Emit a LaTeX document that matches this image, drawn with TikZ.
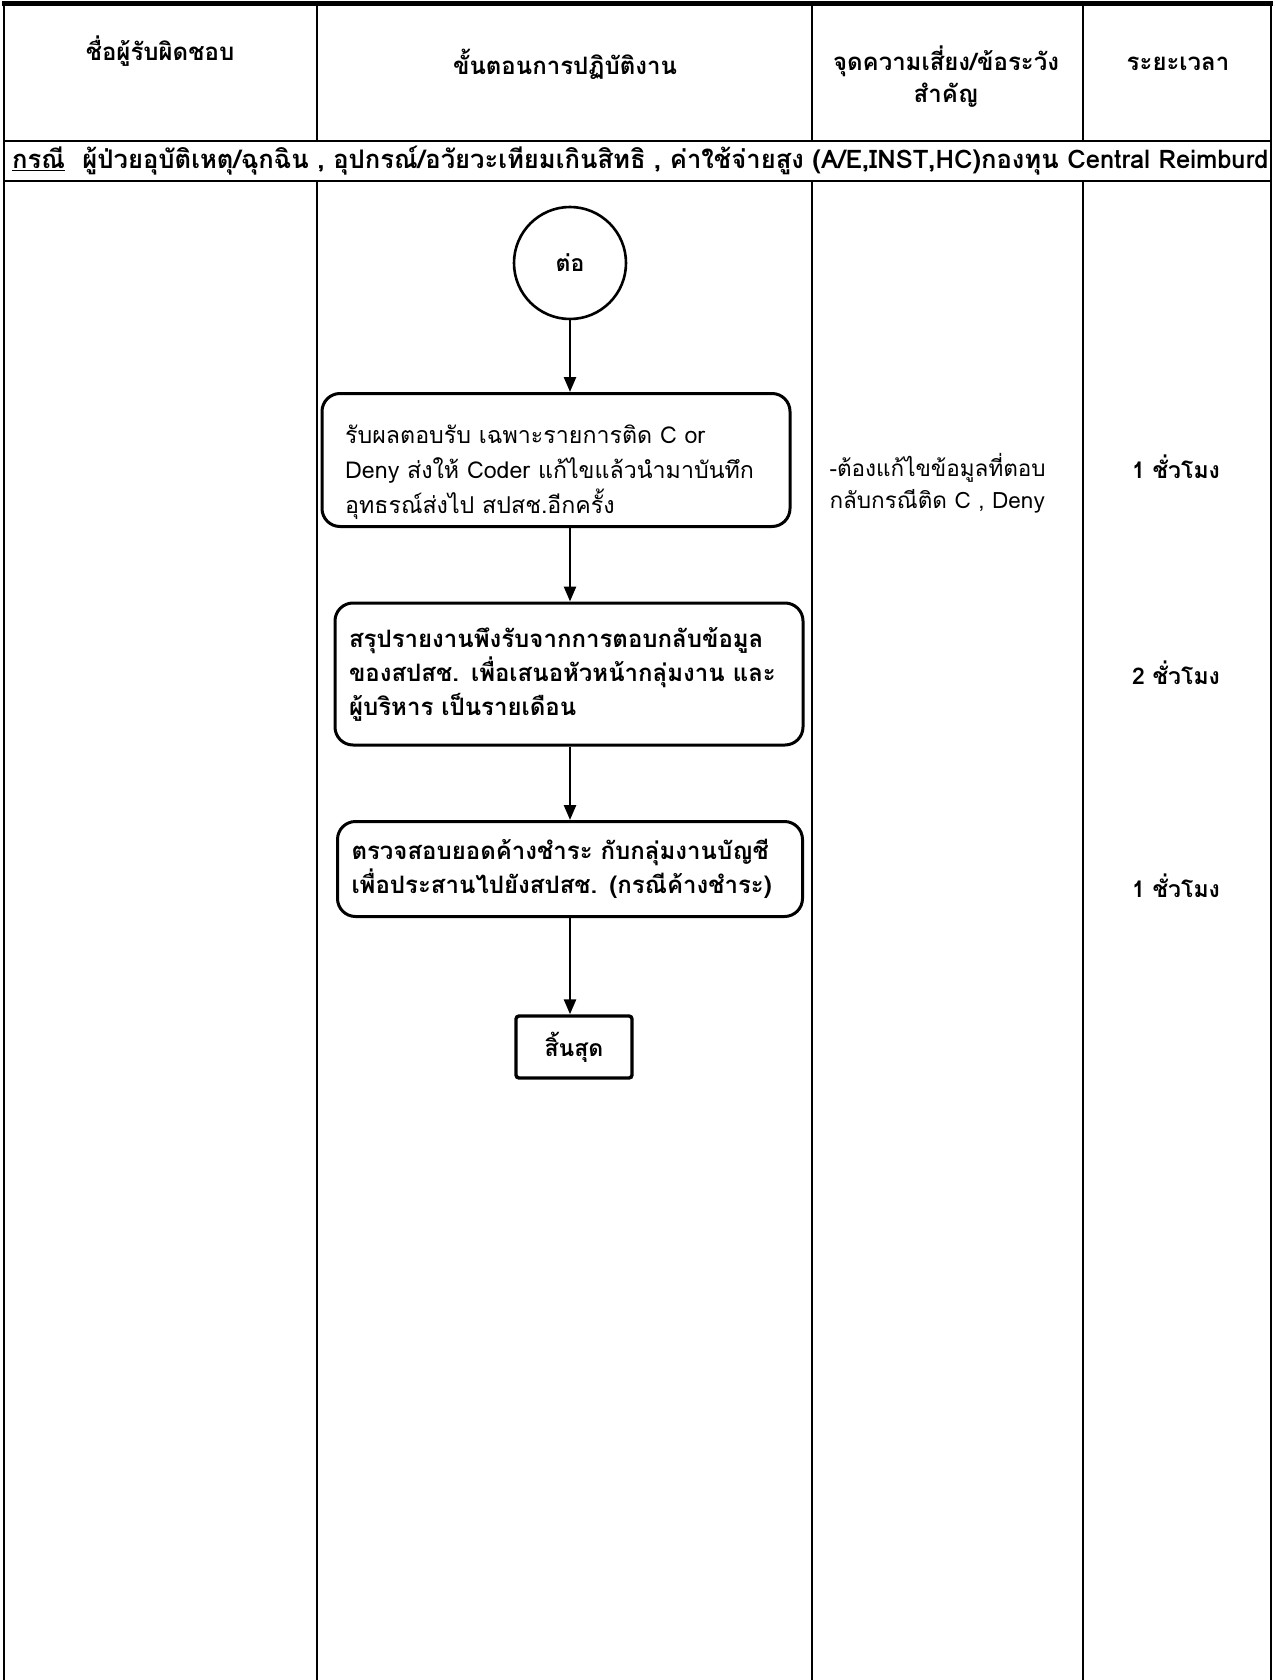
\documentclass[tikz,border=0pt]{standalone}
\usepackage{fontspec}
\setmainfont[Script=Thai]{Loma}
\usetikzlibrary{arrows.meta}
\begin{document}
\begin{tikzpicture}[x=1pt,y=-1pt,
  grid/.style={line width=2.6pt},
  boxtext/.style={font=\fontsize{24}{34}\selectfont},
  proc/.style={draw,line width=3pt,rounded corners=18pt,boxtext,align=left,inner xsep=14pt,inner ysep=0pt,anchor=center},
  startc/.style={draw,circle,line width=2.6pt,minimum size=112pt,inner sep=0pt,font=\bfseries\fontsize{23}{30}\selectfont},
  endbox/.style={draw,line width=3.4pt,rounded corners=3pt,minimum width=116pt,minimum height=62pt,inner sep=0pt,font=\bfseries\fontsize{23}{30}\selectfont},
  arr/.style={line width=2.6pt,-{Triangle[length=15pt,width=12pt]}},
  head/.style={font=\bfseries\fontsize{24}{32}\selectfont,align=center},
  cell/.style={font=\fontsize{22.5}{32}\selectfont,align=left,anchor=north west},
  timec/.style={font=\bfseries\fontsize{23}{30}\selectfont}]
\useasboundingbox (0,0) rectangle (1276,1680);
% table
\draw[line width=5pt] (2,4) -- (1273,4);
\draw[grid] (4,2) -- (4,1680);
\draw[grid] (1271,2) -- (1271,1680);
\draw[grid] (4,141) -- (1271,141);
\draw[grid] (4,181) -- (1271,181);
\foreach \cx in {317,812,1083} {
  \draw[grid] (\cx,4) -- (\cx,141);
  \draw[grid] (\cx,181) -- (\cx,1680);
}
% headers
\node[head] (h1) at (160,51) {ชื่อผู้รับผิดชอบ};
\node[head] (h2) at (565,64) {ขั้นตอนการปฏิบัติงาน};
\node[head] (h3) at (946,77) {จุดความเสี่ยง/ข้อระวัง\\สำคัญ};
\node[head] (h4) at (1178,64) {ระยะเวลา};
\node[font=\bfseries\fontsize{25.6}{30}\selectfont,anchor=west,inner sep=0pt] (case) at (12,161)
  {\underline{กรณี}\ \ ผู้ป่วยอุบัติเหตุ/ฉุกฉิน , อุปกรณ์/อวัยวะเทียมเกินสิทธิ , ค่าใช้จ่ายสูง (A/E,INST,HC)กองทุน Central Reimburd};
% flow
\node[startc] (start) at (570,263) {ต่อ};
\node[proc,minimum width=468pt,minimum height=133pt] (b1) at (556,460) {};
\node[font=\fontsize{23.2}{35}\selectfont,align=left,anchor=west,inner sep=0pt] (b1t) at (345,472)
  {รับผลตอบรับ เฉพาะรายการติด C or\\Deny ส่งให้ Coder แก้ไขแล้วนำมาบันทึก\\อุทธรณ์ส่งไป สปสช.อีกครั้ง};
\node[proc,font=\bfseries\fontsize{24}{34}\selectfont,text width=440pt,minimum height=142pt] (b2) at (569,674)
  {สรุปรายงานพึงรับจากการตอบกลับข้อมูล\\ของสปสช. เพื่อเสนอหัวหน้ากลุ่มงาน และ\\ผู้บริหาร เป็นรายเดือน};
\node[proc,font=\bfseries\fontsize{24}{34}\selectfont,text width=437pt,minimum height=95pt] (b3) at (570,869)
  {ตรวจสอบยอดค้างชำระ กับกลุ่มงานบัญชี\\เพื่อประสานไปยังสปสช. (กรณีค้างชำระ)};
\node[endbox] (fin) at (574,1047) {สิ้นสุด};
\draw[arr] (start) -- (start |- b1.north);
\draw[arr] (b1.south -| start) -- (start |- b2.north);
\draw[arr] (b2.south -| start) -- (start |- b3.north);
\draw[arr] (b3.south -| start) -- (start |- fin.north);
% risk and time
\node[cell] (r1) at (826,450) {-ต้องแก้ไขข้อมูลที่ตอบ\\กลับกรณีติด C , Deny};
\node[timec] (t1) at (1176,467) {1 ชั่วโมง};
\node[timec] (t2) at (1176,673) {2 ชั่วโมง};
\node[timec] (t3) at (1176,886) {1 ชั่วโมง};
\end{tikzpicture}
\end{document}
